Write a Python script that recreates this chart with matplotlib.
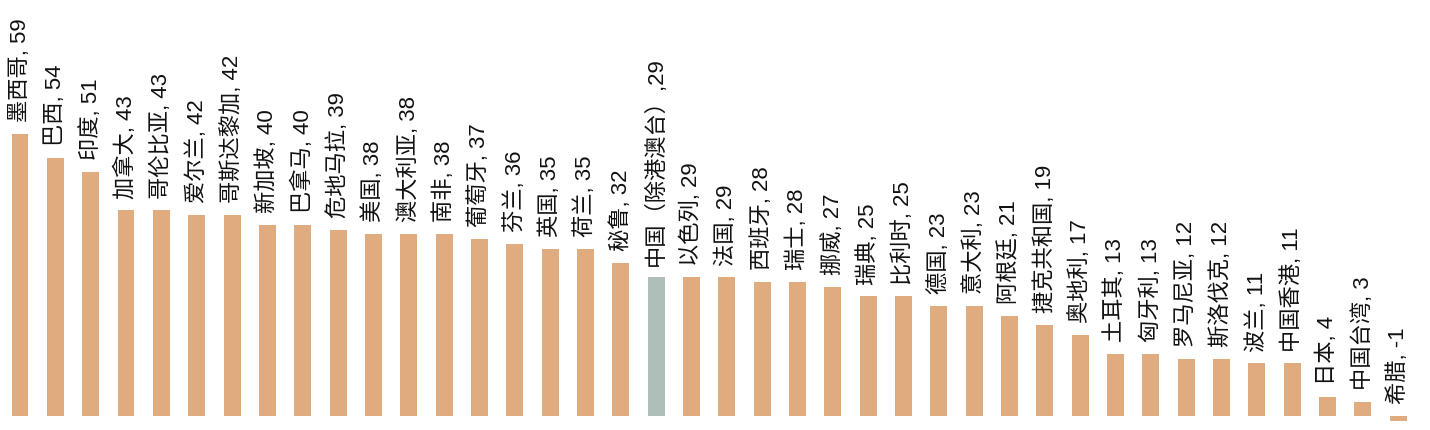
import matplotlib
matplotlib.use("Agg")
import matplotlib.pyplot as plt

plt.rcParams['font.family'] = ['Liberation Sans', 'Noto Sans CJK SC', 'DejaVu Sans']

countries = ["墨西哥", "巴西", "印度", "加拿大", "哥伦比亚", "爱尔兰", "哥斯达黎加", "新加坡",
             "巴拿马", "危地马拉", "美国", "澳大利亚", "南非", "葡萄牙", "芬兰", "英国", "荷兰",
             "秘鲁", "中国（除港澳台）", "以色列", "法国", "西班牙", "瑞士", "挪威", "瑞典", "比利时",
             "德国", "意大利", "阿根廷", "捷克共和国", "奥地利", "土耳其", "匈牙利", "罗马尼亚",
             "斯洛伐克", "波兰", "中国香港", "日本", "中国台湾", "希腊"]
values = [59, 54, 51, 43, 43, 42, 42, 40, 40, 39, 38, 38, 38, 37, 36, 35, 35, 32, 29, 29,
          29, 28, 28, 27, 25, 25, 23, 23, 21, 19, 17, 13, 13, 12, 12, 11, 11, 4, 3, -1]
highlight = "中国（除港澳台）"

base_color = "#E0AB7E"
hl_color = "#AEBFB9"

fig = plt.figure(figsize=(14.3, 4.3), dpi=100)
ax = fig.add_axes([0, 0, 1, 1])
x = list(range(len(countries)))
colors = [hl_color if c == highlight else base_color for c in countries]
ax.bar(x, values, width=0.48, color=colors)

for xi, c, v in zip(x, countries, values):
    sep = "," if c == highlight else ", "
    ax.annotate(f"{c}{sep}{v}", xy=(xi, max(v, 0)), xytext=(0, 8.5),
                textcoords="offset points", rotation=90, ha="center", va="bottom",
                fontsize=16, color="#111111")

ax.set_xlim(-0.566, 39.9)
ax.set_ylim(-2.93, 87.0)
ax.axis("off")
fig.savefig("out.png", dpi=100)
